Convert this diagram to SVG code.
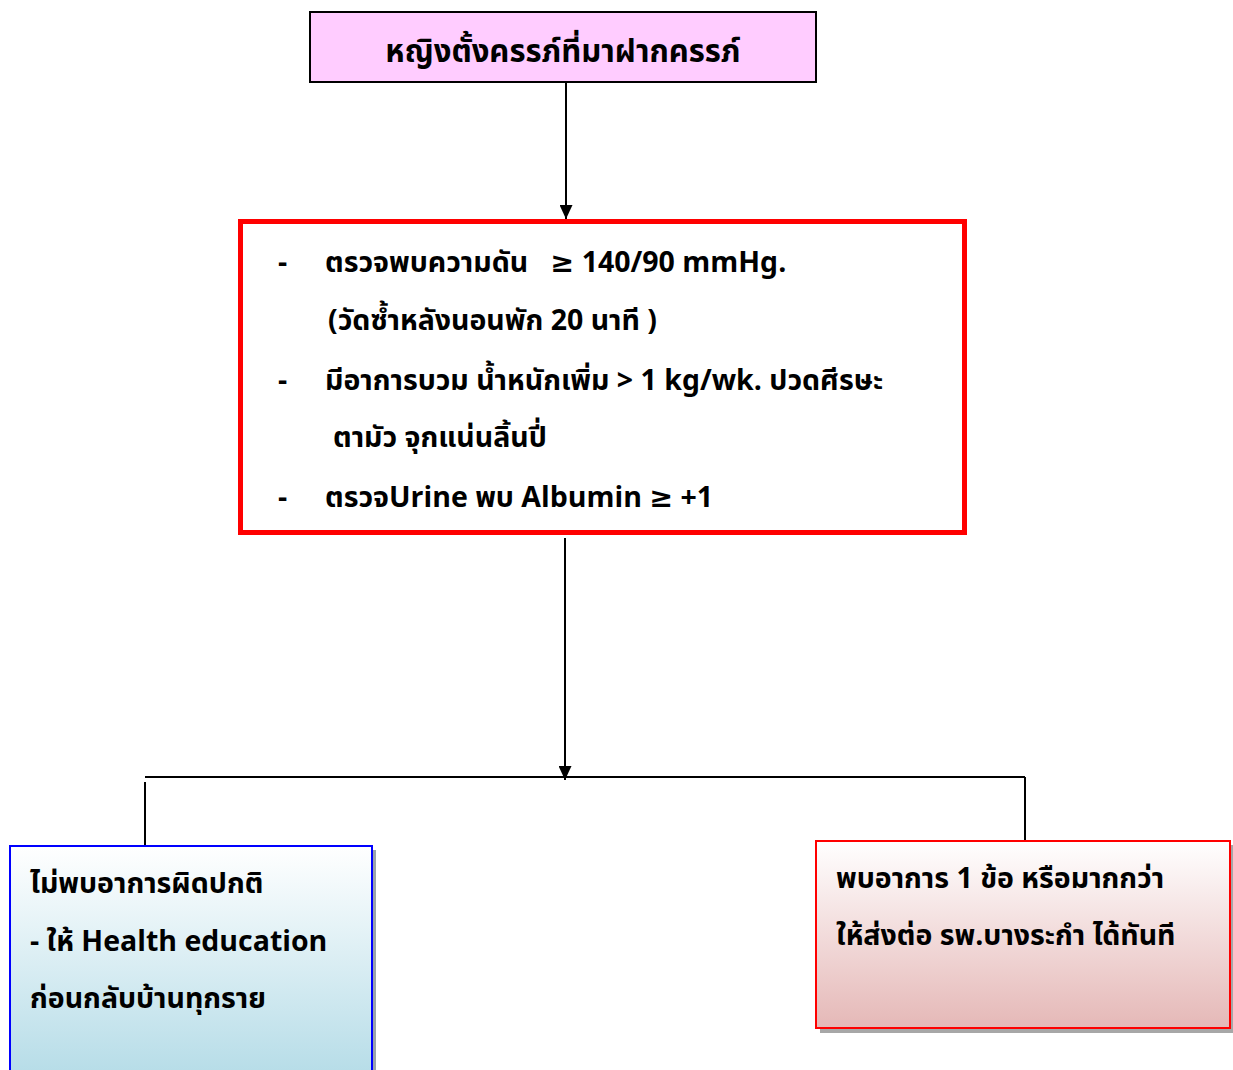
<svg xmlns="http://www.w3.org/2000/svg" width="1233" height="1070" viewBox="0 0 1233 1070">
<style>
text { font-family: "Noto Sans Thai", "Noto Sans", "DejaVu Sans", sans-serif; font-weight: bold; fill: #000; }
.t { font-size: 28.5px; }
.conn { stroke: #000; stroke-width: 2; fill: none; }
</style>
<defs>
<marker id="ah" markerWidth="14" markerHeight="13" refX="14" refY="6.5" orient="auto" markerUnits="userSpaceOnUse" viewBox="0 0 14 13">
<path d="M0,0 L14,6.5 L0,13 Z" fill="#000"/>
</marker>
<linearGradient id="gBlue" x1="0" y1="0" x2="0" y2="1">
<stop offset="0" stop-color="#ffffff"/>
<stop offset="1" stop-color="#b7dde8"/>
</linearGradient>
<linearGradient id="gRed" x1="0" y1="0" x2="0" y2="1">
<stop offset="0" stop-color="#ffffff"/>
<stop offset="1" stop-color="#e5b8b7"/>
</linearGradient>
</defs>
<rect width="1233" height="1070" fill="#fff"/>
<g id="connectors">
<line class="conn" x1="566" y1="83" x2="566" y2="219" marker-end="url(#ah)"/>
<line class="conn" x1="565" y1="538" x2="565" y2="780" marker-end="url(#ah)"/>
<line class="conn" x1="145" y1="777" x2="1025" y2="777"/>
<line class="conn" x1="145" y1="782" x2="145" y2="846"/>
<line class="conn" x1="1025" y1="777" x2="1025" y2="841"/>
</g>
<g id="n1">
<rect x="310" y="12" width="506" height="70" fill="#ffccff" stroke="#000" stroke-width="2"/>
<text x="563" y="62" font-size="31" text-anchor="middle">หญิงตั้งครรภ์ที่มาฝากครรภ์</text>
</g>
<g id="n2">
<rect x="240.5" y="221.5" width="724" height="311" fill="#fff" stroke="#ff0000" stroke-width="5"/>
<text class="t" x="278" y="272">-</text>
<text class="t" x="325" y="272" xml:space="preserve">ตรวจพบความดัน   ≥ 140/90 mmHg.</text>
<text class="t" x="328" y="330">(วัดซ้ำหลังนอนพัก 20 นาที )</text>
<text class="t" x="278" y="390">-</text>
<text class="t" x="325" y="390">มีอาการบวม น้ำหนักเพิ่ม &gt; 1 kg/wk. ปวดศีรษะ</text>
<text class="t" x="333" y="447">ตามัว จุกแน่นลิ้นปี่</text>
<text class="t" x="278" y="507">-</text>
<text class="t" x="325" y="507">ตรวจUrine พบ Albumin ≥ +1</text>
</g>
<g id="n3">
<rect x="14" y="850" width="362" height="224" fill="#9aa3ab"/>
<rect x="10" y="846" width="362" height="226" fill="url(#gBlue)" stroke="#0000ff" stroke-width="2"/>
<text class="t" x="30" y="893">ไม่พบอาการผิดปกติ</text>
<text class="t" x="30" y="951">- ให้ Health education</text>
<text class="t" x="30" y="1008">ก่อนกลับบ้านทุกราย</text>
</g>
<g id="n4">
<rect x="820" y="845" width="413" height="188" fill="#a7a7a7"/>
<rect x="816" y="841" width="414" height="187" fill="url(#gRed)" stroke="#ff0000" stroke-width="2"/>
<text class="t" x="836" y="888">พบอาการ 1 ข้อ หรือมากกว่า</text>
<text class="t" x="836" y="945">ให้ส่งต่อ รพ.บางระกำ ได้ทันที</text>
</g>
</svg>
